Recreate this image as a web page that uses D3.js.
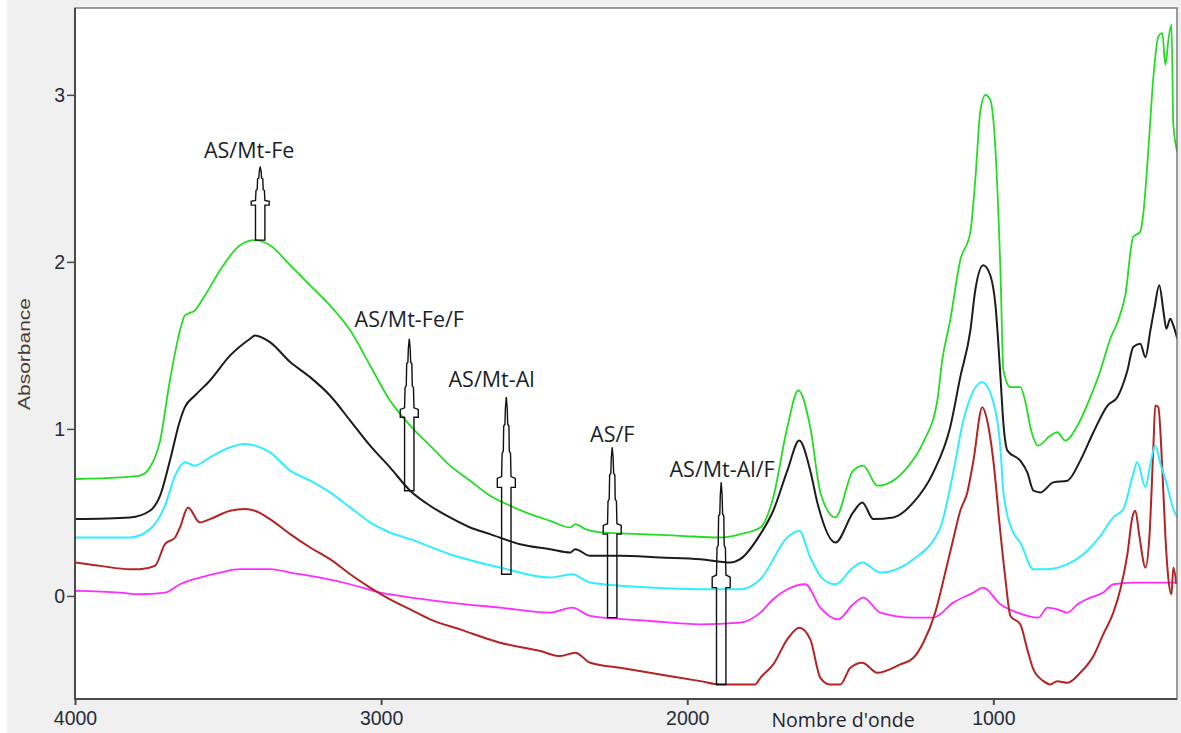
<!DOCTYPE html>
<html><head><meta charset="utf-8">
<script src="https://cdn.jsdelivr.net/npm/d3@7/dist/d3.min.js"></script>
<style>html,body{margin:0;padding:0;background:#f0f0f0;}svg{display:block}</style>
</head><body>
<svg id="chart" width="1181" height="733"></svg>
<script>
// ---------------- data ----------------
const xTicks = [4000, 3000, 2000, 1000];
const yTicks = [0, 1, 2, 3];
const xTitle = "Nombre d'onde";
const yTitle = "Absorbance";
const seriesNames = ["AS/Mt-Fe", "AS/Mt-Fe/F", "AS/Mt-Al", "AS/F", "AS/Mt-Al/F"];

// [wavenumber (cm-1), absorbance]
const asMtFe = [[4000,0.70],[3853,0.71],[3788,0.72],[3755,0.77],[3722,0.93],[3690,1.29],[3657,1.59],[3641,1.68],[3608,1.71],[3575,1.80],[3526,1.95],[3461,2.10],[3412,2.13],[3363,2.10],[3297,1.98],[3232,1.86],[3167,1.74],[3101,1.59],[3036,1.38],[2971,1.17],[2905,1.02],[2840,0.90],[2775,0.78],[2709,0.69],[2644,0.60],[2578,0.54],[2513,0.49],[2448,0.45],[2382,0.41],[2366,0.43],[2333,0.40],[2284,0.38],[2154,0.37],[2023,0.36],[1892,0.35],[1827,0.37],[1761,0.41],[1719,0.59],[1673,1.01],[1637,1.23],[1598,1.01],[1565,0.62],[1516,0.47],[1458,0.75],[1425,0.78],[1379,0.66],[1281,0.77],[1229,0.92],[1183,1.17],[1167,1.41],[1141,1.65],[1108,2.01],[1075,2.18],[1059,2.49],[1042,2.91],[1026,3.00],[1010,2.97],[993,2.67],[977,1.96],[967,1.35],[944,1.25],[912,1.25],[895,1.16],[879,1.01],[853,0.90],[814,0.96],[791,0.98],[765,0.93],[725,1.02],[683,1.19],[650,1.35],[618,1.54],[592,1.65],[569,1.80],[543,2.15],[520,2.18],[510,2.29],[494,2.66],[477,3.11],[461,3.35],[448,3.37],[438,3.18],[428,3.33],[418,3.42],[412,2.82],[399,2.66]];

const asMtFeF = [[4000,0.46],[3820,0.47],[3755,0.51],[3722,0.60],[3690,0.81],[3657,1.05],[3641,1.13],[3608,1.20],[3559,1.29],[3493,1.44],[3428,1.54],[3412,1.56],[3363,1.52],[3297,1.40],[3232,1.31],[3167,1.20],[3101,1.05],[3036,0.90],[2971,0.77],[2905,0.63],[2840,0.54],[2775,0.47],[2709,0.41],[2644,0.37],[2546,0.31],[2448,0.28],[2382,0.26],[2366,0.28],[2317,0.24],[2219,0.24],[2088,0.23],[1957,0.22],[1859,0.20],[1827,0.22],[1761,0.37],[1719,0.51],[1673,0.75],[1634,0.93],[1598,0.75],[1575,0.56],[1516,0.32],[1458,0.50],[1428,0.56],[1392,0.46],[1327,0.47],[1261,0.56],[1196,0.74],[1141,1.01],[1108,1.31],[1075,1.59],[1059,1.83],[1033,1.98],[1010,1.92],[993,1.74],[977,1.32],[967,1.03],[954,0.87],[912,0.81],[889,0.74],[869,0.63],[846,0.62],[804,0.68],[758,0.69],[716,0.81],[673,0.98],[627,1.14],[595,1.19],[562,1.35],[543,1.49],[520,1.51],[503,1.43],[487,1.59],[474,1.72],[458,1.86],[444,1.70],[435,1.60],[422,1.66],[412,1.62],[399,1.54]];

const asMtAl = [[4000,0.35],[3820,0.35],[3755,0.40],[3706,0.54],[3673,0.72],[3641,0.80],[3608,0.78],[3559,0.83],[3493,0.89],[3444,0.91],[3412,0.90],[3363,0.86],[3297,0.75],[3232,0.69],[3167,0.62],[3101,0.53],[3036,0.44],[2971,0.38],[2905,0.34],[2775,0.25],[2611,0.17],[2448,0.11],[2376,0.13],[2317,0.08],[2121,0.05],[1957,0.04],[1827,0.04],[1761,0.10],[1673,0.35],[1634,0.39],[1598,0.23],[1556,0.10],[1516,0.07],[1458,0.17],[1428,0.20],[1369,0.14],[1261,0.22],[1173,0.41],[1131,0.74],[1098,1.05],[1036,1.28],[1000,1.16],[977,0.89],[967,0.62],[935,0.38],[912,0.32],[869,0.16],[823,0.16],[758,0.19],[706,0.25],[650,0.36],[608,0.47],[575,0.52],[546,0.71],[530,0.80],[503,0.65],[487,0.79],[471,0.90],[454,0.79],[435,0.68],[412,0.52],[399,0.47]];

const asF = [[4000,0.03],[3853,0.02],[3788,0.01],[3706,0.02],[3657,0.07],[3592,0.11],[3526,0.14],[3461,0.16],[3363,0.16],[3297,0.14],[3199,0.11],[3101,0.07],[3003,0.02],[2938,0.00],[2775,-0.04],[2611,-0.07],[2448,-0.10],[2376,-0.07],[2317,-0.12],[2121,-0.15],[1957,-0.17],[1827,-0.16],[1761,-0.10],[1719,-0.02],[1673,0.04],[1614,0.07],[1565,-0.07],[1507,-0.14],[1458,-0.05],[1425,-0.01],[1369,-0.10],[1261,-0.13],[1196,-0.13],[1131,-0.04],[1065,0.02],[1033,0.05],[977,-0.05],[921,-0.10],[853,-0.13],[823,-0.07],[791,-0.08],[758,-0.10],[725,-0.05],[683,-0.01],[641,0.02],[608,0.07],[543,0.08],[399,0.08]];

const asMtAlF = [[4000,0.20],[3918,0.18],[3820,0.16],[3788,0.16],[3739,0.18],[3706,0.31],[3673,0.35],[3657,0.41],[3631,0.53],[3592,0.44],[3559,0.46],[3493,0.51],[3444,0.52],[3412,0.51],[3363,0.46],[3297,0.37],[3232,0.29],[3167,0.22],[3101,0.13],[3036,0.05],[2971,-0.02],[2905,-0.08],[2840,-0.14],[2742,-0.20],[2611,-0.28],[2480,-0.33],[2415,-0.36],[2366,-0.34],[2317,-0.40],[2219,-0.43],[2088,-0.47],[1957,-0.51],[1892,-0.53],[1778,-0.53],[1761,-0.49],[1719,-0.41],[1673,-0.26],[1634,-0.19],[1598,-0.26],[1565,-0.49],[1533,-0.53],[1500,-0.53],[1467,-0.43],[1428,-0.40],[1379,-0.46],[1304,-0.41],[1261,-0.37],[1229,-0.28],[1190,-0.10],[1157,0.14],[1131,0.34],[1108,0.51],[1085,0.62],[1065,0.81],[1036,1.13],[1020,1.05],[1000,0.81],[977,0.38],[961,0.11],[944,-0.12],[912,-0.17],[889,-0.32],[869,-0.44],[836,-0.51],[814,-0.53],[791,-0.51],[758,-0.52],[716,-0.46],[673,-0.36],[641,-0.23],[608,-0.10],[585,0.04],[562,0.25],[546,0.47],[536,0.51],[523,0.36],[503,0.17],[490,0.36],[477,0.90],[471,1.14],[461,1.13],[448,0.76],[438,0.36],[428,0.10],[418,0.01],[412,0.17],[402,0.07]];

const seriesValues = [asMtFe, asMtFeF, asMtAl, asF, asMtAlF];

// annotation arrows: [wavenumber, tip, head end, stem end] in absorbance units
const arrowLabels = ["AS/Mt-Fe", "AS/Mt-Fe/F", "AS/Mt-Al", "AS/F", "AS/Mt-Al/F"];
const arrowPos = [[3395, 2.57, 2.34, 2.13], [2908, 1.54, 1.07, 0.63], [2591, 1.19, 0.65, 0.13], [2245, 0.89, 0.37, -0.13], [1889, 0.68, 0.05, -0.53]];
// label anchor [wavenumber, absorbance at baseline]
const labelPos = [[3431, 2.62], [2908, 1.61], [2639, 1.25], [2245, 0.92], [1886, 0.71]];

// ---------------- styles ----------------
const colors = ["#22dd22", "#1c1c1c", "#30eeff", "#ff2cff", "#b32424"];
const lineWidths = [1.8, 2, 2, 1.8, 2];
const drawOrder = [3, 4, 2, 1, 0];

const svg = d3.select("#chart");
const W = 1181, H = 733;
const plot = {l: 75, t: 8, r: 1177, b: 699};

const x = d3.scaleLinear().domain([4000, 400]).range([plot.l, plot.r]);
const y = d3.scaleLinear().domain([-0.617, 3.52]).range([plot.b, plot.t]);

svg.append("rect").attr("width", W).attr("height", H).attr("fill", "#f0f0f0");
svg.append("rect").attr("x", 0).attr("y", 0).attr("width", 7).attr("height", H).attr("fill", "#ffffff");
svg.append("rect").attr("x", plot.l).attr("y", plot.t).attr("width", plot.r - plot.l).attr("height", plot.b - plot.t).attr("fill", "#ffffff");

const defs = svg.append("defs");
defs.append("clipPath").attr("id", "clip").append("rect")
  .attr("x", plot.l).attr("y", plot.t).attr("width", plot.r - plot.l).attr("height", plot.b - plot.t);

const line = d3.line().x(d => x(d[0])).y(d => y(d[1])).curve(d3.curveMonotoneX);
const g = svg.append("g").attr("clip-path", "url(#clip)");
drawOrder.forEach(i => {
  g.append("path").datum(seriesValues[i])
    .attr("d", line)
    .attr("fill", "none")
    .attr("stroke", colors[i])
    .attr("stroke-width", lineWidths[i])
    .attr("stroke-linejoin", "round");
});

// frame
svg.append("rect").attr("x", plot.l).attr("y", plot.t).attr("width", plot.r - plot.l).attr("height", plot.b - plot.t)
  .attr("fill", "none").attr("stroke", "#6a6a6a").attr("stroke-width", 1.3);
svg.append("line").attr("x1", plot.l).attr("x2", plot.l).attr("y1", plot.t).attr("y2", plot.b + 1).attr("stroke", "#4a4a4a").attr("stroke-width", 2);
svg.append("line").attr("x1", plot.l - 1).attr("x2", plot.r).attr("y1", plot.b).attr("y2", plot.b).attr("stroke", "#4a4a4a").attr("stroke-width", 2);

// axes
const tickFont = "'Liberation Sans', Arial, sans-serif";
const xAxis = svg.append("g").attr("transform", `translate(0,${plot.b})`)
  .call(d3.axisBottom(x).tickValues(xTicks).tickSize(6).tickFormat(d3.format("d")));
xAxis.select(".domain").remove();
xAxis.selectAll("line").attr("stroke", "#4a4a4a").attr("stroke-width", 2);
xAxis.selectAll("text").attr("y", 26).attr("dy", 0).attr("fill", "#262b3a")
  .style("font-family", tickFont).style("font-size", "19.5px");

const yAxis = svg.append("g").attr("transform", `translate(${plot.l},0)`)
  .call(d3.axisLeft(y).tickValues(yTicks).tickSize(8).tickFormat(d3.format("d")));
yAxis.select(".domain").remove();
yAxis.selectAll("line").attr("stroke", "#4a4a4a").attr("stroke-width", 1.5);
yAxis.selectAll("text").attr("x", -10).attr("dy", "0.35em").attr("fill", "#262b3a")
  .style("font-family", tickFont).style("font-size", "19.5px");

// axis titles
svg.append("text").attr("transform", "translate(30,354) rotate(-90)")
  .attr("text-anchor", "middle").attr("fill", "#4d3b31")
  .style("font-family", tickFont).style("font-size", "17px")
  .attr("textLength", 112).attr("lengthAdjust", "spacingAndGlyphs")
  .text(yTitle);

const annFont = "'Open Sans', 'Noto Sans', sans-serif";
svg.append("text").attr("x", 843).attr("y", 727)
  .attr("text-anchor", "middle").attr("fill", "#1e2430")
  .style("font-family", annFont).style("font-size", "19.5px")
  .text(xTitle);

// arrows
function arrowPath(cx, tip, headEnd, stemEnd) {
  const h = headEnd - tip;
  const pts = [
    [0, 0], [0.9, 0.12], [1.4, 0.3], [2.6, 0.32], [3, 0.6], [4.2, 0.62], [4.7, 0.88], [9, 0.9], [9, 1.0], [4.7, 1.0]
  ];
  const right = pts.map(p => [cx + p[0], tip + p[1] * h]);
  right.push([cx + 4.7, stemEnd]);
  const left = right.slice().reverse().map(p => [2 * cx - p[0], p[1]]);
  return d3.line()(right.concat(left)) + "Z";
}
const ann = svg.append("g");
arrowPos.forEach((a, i) => {
  ann.append("path")
    .attr("d", arrowPath(x(a[0]), y(a[1]), y(a[2]), y(a[3])))
    .attr("fill", "none").attr("stroke", "#111").attr("stroke-width", 1.4)
    .attr("stroke-linejoin", "miter");
  ann.append("text")
    .attr("x", x(labelPos[i][0])).attr("y", y(labelPos[i][1]))
    .attr("text-anchor", "middle").attr("fill", "#1a1f2a")
    .style("font-family", annFont).style("font-size", "21.5px")
    .text(arrowLabels[i]);
});
</script>
</body></html>
